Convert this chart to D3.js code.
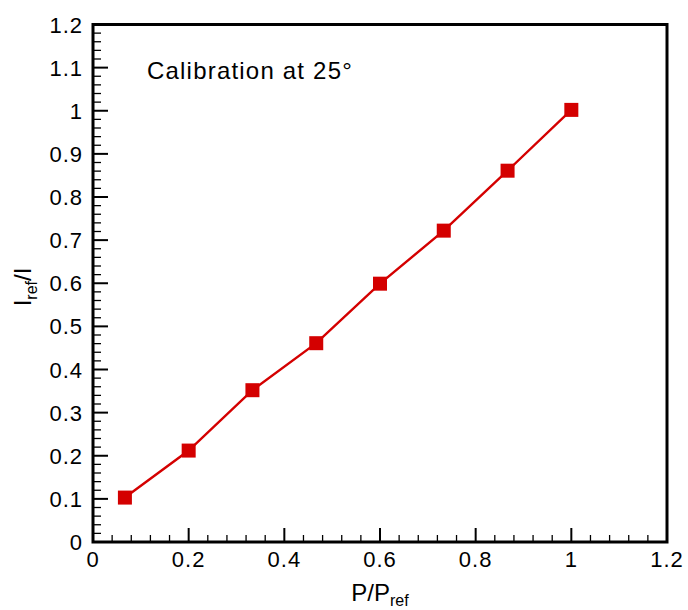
<!DOCTYPE html>
<html>
<head>
<meta charset="utf-8">
<script src="https://cdn.jsdelivr.net/npm/d3@7"></script>
<style>
body { margin: 0; background: #fff; }
text { font-family: "Liberation Sans", Arial, sans-serif; fill: #000; }
</style>
</head>
<body>
<svg id="chart" width="688" height="610"></svg>
<script>
// calibration data
var pRatio = [0.0667, 0.2, 0.3333, 0.4667, 0.6, 0.7333, 0.8667, 1.0];
var iRatio = [0.103, 0.212, 0.352, 0.461, 0.599, 0.722, 0.861, 1.002];
var xTicks = [0, 0.2, 0.4, 0.6, 0.8, 1, 1.2];
var yTicks = [0, 0.1, 0.2, 0.3, 0.4, 0.5, 0.6, 0.7, 0.8, 0.9, 1, 1.1, 1.2];
var annotation = "Calibration at 25\u00b0";

var padL = 93, padR = 667, padT = 24.5, padB = 542;
var red = "#d40000";

var svg = d3.select("#chart");

var xScale = d3.scaleLinear().domain([0, 1.2]).range([padL, padR]);
var yScale = d3.scaleLinear().domain([0, 1.2]).range([padB, padT]);

var fmt = function(d) { return String(+d.toFixed(1)); };

// minor ticks, 4 between majors
var xMinor = d3.range(0, 1.2001, 0.04).filter(function(d, i) { return i % 5 != 0; });
var yMinor = d3.range(0, 1.2001, 0.02).filter(function(d, i) { return i % 5 != 0; });

var ax = svg.append("g");

ax.selectAll("line.xminor").data(xMinor).enter().append("line")
	.attr("x1", function(d) { return xScale(d); }).attr("x2", function(d) { return xScale(d); })
	.attr("y1", padB).attr("y2", padB - 7)
	.attr("stroke", "#000").attr("stroke-width", 1.3);
ax.selectAll("line.xmajor").data(xTicks).enter().append("line")
	.attr("x1", function(d) { return xScale(d); }).attr("x2", function(d) { return xScale(d); })
	.attr("y1", padB).attr("y2", padB - 14)
	.attr("stroke", "#000").attr("stroke-width", 2);
ax.selectAll("line.yminor").data(yMinor).enter().append("line")
	.attr("y1", function(d) { return yScale(d); }).attr("y2", function(d) { return yScale(d); })
	.attr("x1", padL).attr("x2", padL + 8)
	.attr("stroke", "#000").attr("stroke-width", 1.3);
ax.selectAll("line.ymajor").data(yTicks).enter().append("line")
	.attr("y1", function(d) { return yScale(d); }).attr("y2", function(d) { return yScale(d); })
	.attr("x1", padL).attr("x2", padL + 15)
	.attr("stroke", "#000").attr("stroke-width", 2);

// frame
svg.append("rect")
	.attr("x", padL).attr("y", padT)
	.attr("width", padR - padL).attr("height", padB - padT)
	.attr("fill", "none").attr("stroke", "#000").attr("stroke-width", 3);

// tick labels
ax.selectAll("text.xl").data(xTicks).enter().append("text")
	.attr("x", function(d) { return xScale(d); })
	.attr("y", padB + 25)
	.attr("text-anchor", "middle")
	.style("font-size", "22px")
	.style("letter-spacing", "1px")
	.text(fmt);
ax.selectAll("text.yl").data(yTicks).enter().append("text")
	.attr("x", padL - 10)
	.attr("y", function(d) { return yScale(d) + 8; })
	.attr("text-anchor", "end")
	.style("font-size", "22px")
	.style("letter-spacing", "1px")
	.text(fmt);

// axis titles
var xt = svg.append("text")
	.attr("x", 380).attr("y", 601)
	.attr("text-anchor", "middle")
	.style("font-size", "24px");
xt.append("tspan").text("P/P");
xt.append("tspan").attr("dy", 5).style("font-size", "16px").text("ref");

var yt = svg.append("text")
	.attr("transform", "translate(31,287) rotate(-90)")
	.attr("text-anchor", "middle")
	.style("font-size", "24px");
yt.append("tspan").text("I");
yt.append("tspan").attr("dy", 6).style("font-size", "16px").text("ref");
yt.append("tspan").attr("dy", -6).text("/I");

// annotation
svg.append("text")
	.attr("x", 147).attr("y", 79)
	.style("font-size", "24px")
	.style("letter-spacing", "1.2px")
	.text(annotation);

// series
var pts = pRatio.map(function(p, i) { return [p, iRatio[i]]; });
var line = d3.line()
	.x(function(d) { return xScale(d[0]); })
	.y(function(d) { return yScale(d[1]); });

svg.append("path")
	.datum(pts)
	.attr("d", line)
	.attr("fill", "none")
	.attr("stroke", red)
	.attr("stroke-width", 2.4);

svg.selectAll("rect.mark").data(pts).enter().append("rect")
	.attr("x", function(d) { return xScale(d[0]) - 7; })
	.attr("y", function(d) { return yScale(d[1]) - 7; })
	.attr("width", 14).attr("height", 14)
	.attr("fill", red);
</script>
</body>
</html>
